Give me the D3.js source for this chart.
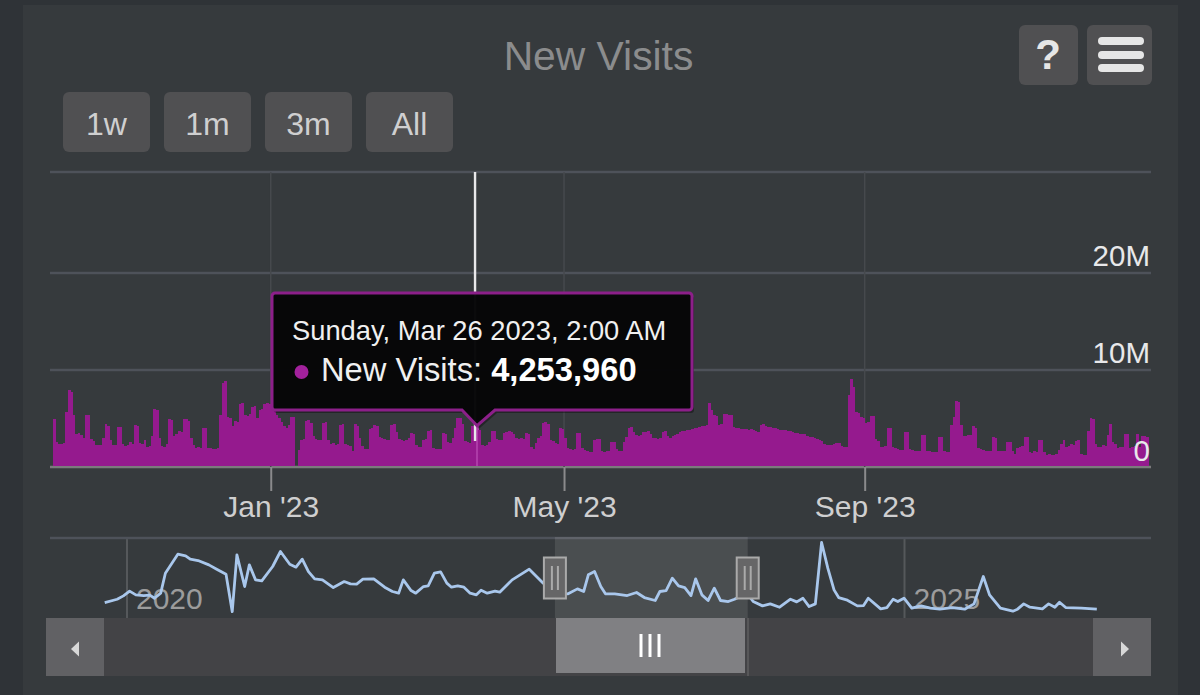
<!DOCTYPE html>
<html>
<head>
<meta charset="utf-8">
<script src="https://cdn.jsdelivr.net/npm/d3@7"></script>
<style>
  html, body { margin: 0; padding: 0; background: #2f3337; }
  svg { display: block; font-family: "Liberation Sans", Arial, sans-serif; }
</style>
</head>
<body>
<svg width="1200" height="695"></svg>
<script>
// daily new visits in millions, one list per stretch of the range
var visitsOctToJan = [
  4.9, 2.6, 2.4, 2.4, 2.5, 5.7, 7.9, 7.7, 5.4, 3.4, 3.5, 3.3, 3.0, 5.4, 5.4, 2.9, 2.7, 2.3, 2.3, 2.3,
  3.0, 4.4, 4.2, 2.8, 2.3, 2.3, 4.1, 4.1, 2.4, 2.2, 2.3, 2.6, 2.4, 4.3, 4.2, 2.5, 2.4, 2.8, 2.1, 2.2,
  3.2, 6.0, 5.9, 3.0, 2.2, 2.1, 2.4, 4.9, 4.8, 3.2, 3.4, 3.7, 3.6, 4.9, 4.9, 4.7, 3.0, 2.3, 2.0, 2.1,
  2.0, 4.0, 4.0, 2.0, 2.0, 1.9, 1.9, 2.0, 5.4, 8.7, 8.9, 5.2, 5.0, 4.2, 4.7, 4.6, 6.5, 6.6, 5.4, 5.3,
  5.5, 6.2, 6.3, 5.0, 5.9, 6.0, 6.5, 6.6, 6.5, 6.2, 5.9, 5.4, 5.0, 4.6, 4.2, 4.0, 4.3, 5.2, 5.2, 0.15,
  1.8, 2.8, 2.9, 4.7, 4.8, 4.5, 3.2, 2.9, 2.8, 2.8, 4.5, 4.6
];
var visitsJanToMay = [
  2.8, 2.4, 2.5, 2.3, 2.4, 4.3, 4.4, 2.4, 2.3, 2.2, 1.6, 4.4, 4.2, 3.0, 2.2, 1.9, 1.9, 3.9, 4.0, 4.3,
  4.2, 3.1, 3.0, 2.9, 2.8, 2.8, 4.3, 4.4, 3.6, 2.9, 2.8, 2.7, 2.8, 3.0, 3.5, 3.4, 2.3, 2.1, 2.1, 2.8,
  2.9, 3.7, 3.8, 2.0, 1.9, 1.9, 1.9, 3.5, 3.4, 2.6, 2.5, 3.0, 4.0, 5.1, 5.0, 4.4, 2.7, 2.6, 2.5, 4.2,
  4.3, 4.25396, 3.8, 2.3, 2.2, 2.3, 2.6, 3.7, 3.7, 2.9, 2.8, 2.8, 3.5, 3.6, 3.7, 3.6, 3.4, 3.0, 2.9, 3.0,
  2.9, 3.5, 3.4, 2.1, 1.9, 2.5, 3.0, 3.2, 4.5, 4.6, 4.4, 2.8, 2.7, 2.5, 2.4, 4.0, 3.9, 3.0, 2.0, 1.9,
  1.8, 1.9, 3.5, 3.5, 2.0, 1.8, 1.7, 1.5, 1.5, 2.8, 2.9
];
var visitsMayToAug = [
  2.9, 1.6, 1.5, 1.7, 1.6, 2.6, 2.6, 1.9, 1.6, 1.6, 2.6, 3.1, 4.0, 4.1, 3.6, 3.3, 3.2, 3.3, 3.6, 3.6,
  3.7, 3.4, 3.0, 3.0, 2.9, 3.0, 3.6, 3.7, 3.2, 3.0, 3.2, 3.3, 3.4, 3.6, 3.7, 3.7, 3.8, 3.8, 3.9, 4.0,
  4.0, 4.1, 4.2, 4.2, 4.3, 6.6, 5.9, 5.4, 5.3, 4.3, 4.4, 5.5, 5.5, 5.4, 5.4, 4.1, 4.0, 4.0, 3.9, 3.9,
  3.9, 3.8, 3.9, 3.8, 3.7, 3.6, 4.3, 4.4, 4.2, 4.1, 4.1, 4.0, 4.0, 3.9, 3.8, 3.8, 3.8, 3.7, 3.7, 3.6,
  3.5, 3.5, 3.4, 3.4, 3.4, 3.2, 3.1, 3.1, 3.0, 2.9, 2.8, 2.7, 2.4, 2.3, 2.3, 2.3, 2.4, 2.5, 2.5, 2.2,
  2.1, 2.1
];
var visitsAugToDec = [
  7.4, 9.1, 8.2, 5.7, 5.6, 5.2, 5.0, 4.5, 4.6, 5.3, 5.3, 2.9, 2.7, 2.1, 2.1, 2.2, 4.0, 4.0, 2.1, 2.0,
  1.9, 1.8, 1.8, 3.6, 3.6, 1.9, 1.8, 1.7, 1.7, 1.6, 3.3, 3.3, 1.7, 1.6, 1.5, 1.5, 1.5, 3.1, 3.1, 1.6,
  1.5, 1.5, 4.3, 5.2, 6.8, 6.7, 4.3, 3.2, 3.2, 3.3, 3.3, 4.2, 4.0, 2.0, 1.9, 1.8, 1.7, 1.7, 1.7, 3.1,
  3.0, 1.7, 1.6, 1.6, 1.6, 2.6, 2.6, 1.6, 1.3, 2.0, 2.1, 2.2, 3.1, 3.1, 1.5, 1.4, 1.6, 1.5, 2.8, 2.8,
  1.5, 1.2, 1.3, 1.2, 1.2, 1.3, 1.8, 2.4, 2.8, 2.1, 2.2, 2.4, 2.3, 2.7, 2.8, 1.3, 1.2, 1.2, 3.7, 5.1,
  4.9, 2.4, 2.1, 2.1, 2.3, 2.2, 3.3, 4.4, 2.6, 2.4, 2.0, 2.1, 2.1, 3.4, 3.4, 2.0, 2.1, 2.2, 3.4, 2.1,
  3.2, 3.2, 3.1
];
var dailyVisits = visitsOctToJan.concat(visitsJanToMay, visitsMayToAug, visitsAugToDec);

var firstDay = new Date(Date.UTC(2022, 9, 4));
var lastDay = new Date(Date.UTC(2023, 11, 26));
var monthTicks = [new Date(Date.UTC(2023, 0, 1)), new Date(Date.UTC(2023, 4, 1)), new Date(Date.UTC(2023, 8, 1))];
var yLabelTicks = [0, 10, 20];
var yGridTicks = [0, 10, 20, 30.4];
var hoverIndex = 173;

// navigator line: decimal year and visits
var navYears = [
  2019.86, 2019.94, 2019.98, 2020.02, 2020.06, 2020.11, 2020.15, 2020.18, 2020.22, 2020.25, 2020.33, 2020.38,
  2020.41, 2020.46, 2020.53, 2020.58, 2020.64, 2020.68, 2020.71, 2020.76, 2020.79, 2020.83, 2020.87, 2020.94,
  2020.99, 2021.05, 2021.09, 2021.13, 2021.17, 2021.21, 2021.26, 2021.33, 2021.40, 2021.44, 2021.48, 2021.52,
  2021.59, 2021.66, 2021.71, 2021.75, 2021.78, 2021.83, 2021.86, 2021.91, 2021.94, 2021.98, 2022.02, 2022.06,
  2022.09, 2022.13, 2022.17, 2022.21, 2022.25, 2022.28, 2022.32, 2022.37, 2022.40, 2022.48, 2022.59, 2022.68,
  2022.76, 2022.84, 2022.90, 2022.94, 2022.97, 2023.01, 2023.05, 2023.08, 2023.14, 2023.22, 2023.28, 2023.33,
  2023.40, 2023.43, 2023.47, 2023.51, 2023.55, 2023.59, 2023.63, 2023.66, 2023.70, 2023.74, 2023.78, 2023.82,
  2023.87, 2023.91, 2023.99, 2024.03, 2024.09, 2024.14, 2024.20, 2024.27, 2024.31, 2024.35, 2024.39, 2024.43,
  2024.47, 2024.51, 2024.55, 2024.58, 2024.63, 2024.70, 2024.74, 2024.77, 2024.85, 2024.89, 2024.93, 2024.96,
  2025.00, 2025.05, 2025.11, 2025.17, 2025.23, 2025.31, 2025.39, 2025.45, 2025.51, 2025.55, 2025.62, 2025.70,
  2025.73, 2025.77, 2025.81, 2025.89, 2025.93, 2025.97, 2026.00, 2026.04, 2026.14, 2026.24
];
var navValues = [
  1.41, 1.90, 2.40, 3.10, 2.55, 2.45, 2.50, 2.05, 2.80, 5.77, 8.60, 8.35,
  7.86, 7.66, 7.01, 6.37, 5.63, 0.05, 8.50, 3.79, 7.01, 4.78, 4.63, 6.77,
  9.00, 7.11, 6.67, 7.86, 6.02, 4.93, 4.78, 3.64, 4.53, 4.19, 4.14, 4.88,
  4.93, 3.69, 3.05, 2.80, 4.78, 3.19, 2.80, 3.79, 3.89, 5.77, 5.97, 4.29,
  3.69, 3.89, 3.69, 2.80, 2.55, 3.24, 2.80, 3.10, 2.95, 4.78, 6.37, 4.29,
  2.80, 2.70, 3.44, 3.05, 5.53, 6.02, 3.79, 2.70, 2.70, 2.45, 2.90, 2.15,
  1.71, 3.05, 3.19, 5.03, 3.89, 3.64, 2.45, 4.93, 2.55, 1.71, 3.54, 1.71,
  1.56, 1.90, 2.80, 1.56, 0.91, 1.21, 0.71, 1.90, 1.51, 2.05, 0.81, 1.21,
  10.34, 6.52, 3.29, 2.15, 1.81, 0.91, 0.96, 2.05, 0.47, 0.66, 1.90, 1.56,
  2.05, 0.57, 0.91, 0.57, 0.42, 0.66, 0.42, 1.21, 5.28, 2.55, 0.57, 0.12,
  0.42, 1.21, 0.71, 0.47, 1.21, 0.71, 1.46, 0.66, 0.57, 0.42
];
var navYearTicks = [2020, 2025];
var navSelection = [2022.755, 2023.995];

var rangeButtons = ["1w", "1m", "3m", "All"];
var titleText = "New Visits";
var tooltipDate = "Sunday, Mar 26 2023, 2:00 AM";
var tooltipName = "New Visits: ";
var tooltipValue = "4,253,960";

var svg = d3.select("svg");
var purple = "#951a8e";

var xscale = d3.scaleUtc().domain([firstDay, lastDay]).range([53.2, 1148.2]);
var yscale = d3.scaleLinear().domain([0, 30.4]).range([467, 172]);
var navX = d3.scaleLinear().domain([2020, 2025]).range([126.5, 904]);
var navY = d3.scaleLinear().domain([0, 10.34]).range([612, 542.5]);

function dayOf(i) {
  return d3.utcDay.offset(firstDay, i);
}

// panel
svg.append("rect").attr("x", 23).attr("y", 5).attr("width", 1155).attr("height", 690).attr("fill", "#363a3d");

svg.append("text")
  .attr("x", 598.5).attr("y", 70)
  .attr("text-anchor", "middle")
  .attr("font-size", 40.8)
  .attr("fill", "#8b8c8d")
  .text(titleText);

// range buttons
var buttonG = svg.selectAll(".range-button").data(rangeButtons).enter().append("g")
  .attr("class", "range-button")
  .attr("transform", function (d, i) { return "translate(" + (63 + i * 101) + ",92)"; });
buttonG.append("rect").attr("width", 87).attr("height", 60).attr("rx", 6).attr("fill", "#505052");
buttonG.append("text")
  .attr("x", 43.5).attr("y", 43)
  .attr("text-anchor", "middle")
  .attr("font-size", 32)
  .attr("fill", "#cfcfd0")
  .text(function (d) { return d; });

// help + menu buttons
svg.append("rect").attr("x", 1019).attr("y", 25).attr("width", 59).attr("height", 60).attr("rx", 6).attr("fill", "#505052");
svg.append("rect").attr("x", 1087).attr("y", 25).attr("width", 65).attr("height", 60).attr("rx", 6).attr("fill", "#505052");
svg.append("text")
  .attr("x", 1048).attr("y", 69)
  .attr("text-anchor", "middle")
  .attr("font-size", 42).attr("font-weight", "bold")
  .attr("fill", "#e6e6e6")
  .text("?");
svg.selectAll(".menu-bar").data([37, 51, 64]).enter().append("rect")
  .attr("class", "menu-bar")
  .attr("x", 1098).attr("y", function (d) { return d; })
  .attr("width", 46).attr("height", 8).attr("rx", 4)
  .attr("fill", "#e6e6e6");

// grid
svg.selectAll(".h-grid").data(yGridTicks).enter().append("line")
  .attr("class", "h-grid")
  .attr("x1", 50).attr("x2", 1151)
  .attr("y1", function (d) { return yscale(d); })
  .attr("y2", function (d) { return yscale(d); })
  .attr("stroke", function (d) { return d === 0 ? "#7b7b7d" : "#4e525a"; })
  .attr("stroke-width", 2.5);
svg.selectAll(".v-grid").data(monthTicks).enter().append("line")
  .attr("class", "v-grid")
  .attr("x1", function (d) { return xscale(d); })
  .attr("x2", function (d) { return xscale(d); })
  .attr("y1", 172).attr("y2", 467)
  .attr("stroke", "#46494d")
  .attr("stroke-width", 1.5);

// bars
svg.selectAll(".bar").data(dailyVisits).enter().append("rect")
  .attr("class", "bar")
  .attr("x", function (d, i) { return xscale(dayOf(i)); })
  .attr("width", function (d, i) { return xscale(dayOf(i + 1)) - xscale(dayOf(i)) + 0.3; })
  .attr("y", function (d) { return yscale(d); })
  .attr("height", function (d) { return yscale(0) - yscale(d) - 1; })
  .attr("fill", function (d, i) { return i === hoverIndex ? "#ad3aa7" : purple; })
  .attr("shape-rendering", "crispEdges");

// x axis
var xAxis = svg.append("g")
  .attr("transform", "translate(0,467)")
  .call(d3.axisBottom(xscale).tickValues(monthTicks).tickSize(24).tickFormat(d3.utcFormat("%b '%y")));
xAxis.select(".domain").remove();
xAxis.selectAll("line").attr("stroke", "#8a8a8c").attr("stroke-width", 2);
xAxis.selectAll("text")
  .attr("font-family", "Liberation Sans")
  .attr("font-size", 30)
  .attr("fill", "#cfcfd0")
  .attr("y", 29).attr("dy", "0.71em");

// y axis, labels sit above their grid lines
var yAxis = svg.append("g")
  .attr("transform", "translate(1150,0)")
  .call(d3.axisLeft(yscale).tickValues(yLabelTicks).tickSize(0).tickPadding(0).tickFormat(function (d) {
    return d === 0 ? "0" : d + "M";
  }));
yAxis.select(".domain").remove();
yAxis.selectAll("text")
  .attr("font-family", "Liberation Sans")
  .attr("font-size", 29.5)
  .attr("fill", "#e8e8ea")
  .attr("dy", -7);

// crosshair
var hoverX = xscale(dayOf(hoverIndex));
svg.append("line")
  .attr("x1", hoverX - 1).attr("x2", hoverX - 1)
  .attr("y1", 172).attr("y2", 441)
  .attr("stroke", "#e8e8ea").attr("stroke-width", 2.4);

// navigator
var navAxis = svg.append("g")
  .attr("transform", "translate(0,618)")
  .call(d3.axisTop(navX).tickValues(navYearTicks).tickSize(81).tickFormat(d3.format("d")));
navAxis.select(".domain").remove();
navAxis.selectAll("line").attr("stroke", "#55585b").attr("stroke-width", 2);
navAxis.selectAll("text")
  .attr("font-family", "Liberation Sans")
  .attr("font-size", 30)
  .attr("fill", "#9c9c9c")
  .attr("text-anchor", "start")
  .attr("x", 9)
  .attr("y", -9)
  .attr("dy", 0);
svg.append("line")
  .attr("x1", 50).attr("x2", 1151).attr("y1", 538).attr("y2", 538)
  .attr("stroke", "#4e525a").attr("stroke-width", 2.5);

svg.append("rect")
  .attr("x", navX(navSelection[0])).attr("y", 537)
  .attr("width", navX(navSelection[1]) - navX(navSelection[0])).attr("height", 81)
  .attr("fill", "#ffffff").attr("fill-opacity", 0.1);

var navLine = d3.line()
  .x(function (d, i) { return navX(navYears[i]); })
  .y(function (d) { return navY(d); });
svg.append("path")
  .datum(navValues)
  .attr("d", navLine)
  .attr("fill", "none")
  .attr("stroke", "#a9c7ec")
  .attr("stroke-width", 2.8)
  .attr("stroke-linejoin", "round");

var handleG = svg.selectAll(".handle").data(navSelection).enter().append("g")
  .attr("class", "handle")
  .attr("transform", function (d) { return "translate(" + navX(d) + ",578)"; });
handleG.append("rect")
  .attr("x", -11).attr("y", -20.5).attr("width", 22).attr("height", 41)
  .attr("fill", "#666667").attr("stroke", "#aaaaaa").attr("stroke-width", 2);
handleG.selectAll(".grip").data([-3, 3]).enter().append("line")
  .attr("class", "grip")
  .attr("x1", function (d) { return d; }).attr("x2", function (d) { return d; })
  .attr("y1", -12).attr("y2", 12)
  .attr("stroke", "#aaaaaa").attr("stroke-width", 2);

// scrollbar
svg.append("rect").attr("x", 46).attr("y", 618).attr("width", 1105).attr("height", 58).attr("fill", "#434346");
svg.append("rect").attr("x", 46).attr("y", 618).attr("width", 58).attr("height", 58).attr("fill", "#616164");
svg.append("rect").attr("x", 1093).attr("y", 618).attr("width", 58).attr("height", 58).attr("fill", "#616164");
svg.append("path").attr("d", "M79,641.5L71,649L79,656.5Z").attr("fill", "#d8d8d8");
svg.append("path").attr("d", "M1121,641.5L1129,649L1121,656.5Z").attr("fill", "#d8d8d8");
svg.append("rect").attr("x", 556).attr("y", 618).attr("width", 189).attr("height", 55).attr("fill", "#808083");
svg.append("line").attr("x1", 748).attr("x2", 748).attr("y1", 618).attr("y2", 676).attr("stroke", "#5e5e61").attr("stroke-width", 1.5);
svg.selectAll(".thumb-bar").data([641, 650, 659]).enter().append("line")
  .attr("class", "thumb-bar")
  .attr("x1", function (d) { return d; }).attr("x2", function (d) { return d; })
  .attr("y1", 634).attr("y2", 657)
  .attr("stroke", "#ffffff").attr("stroke-width", 3);

// tooltip
var tipTop = yscale(dailyVisits[hoverIndex]);
var tipPath = "M275,293H689a3,3 0 0 1 3,3V407a3,3 0 0 1 -3,3H495L" + (hoverX + 1) + "," + tipTop + "L462,410H275a3,3 0 0 1 -3,-3V296a3,3 0 0 1 3,-3Z";
svg.append("path")
  .attr("d", tipPath)
  .attr("fill", "#000000").attr("fill-opacity", 0.35)
  .attr("transform", "translate(2,3)");
svg.append("path")
  .attr("d", tipPath)
  .attr("fill", "#060607").attr("fill-opacity", 0.97)
  .attr("stroke", "#8c1f89").attr("stroke-width", 3);
svg.append("text")
  .attr("x", 292).attr("y", 340)
  .attr("font-size", 27.3)
  .attr("fill", "#f0f0f0")
  .text(tooltipDate);
svg.append("circle").attr("cx", 301.5).attr("cy", 372).attr("r", 7).attr("fill", "#a2219c");
var tipLine = svg.append("text")
  .attr("x", 321).attr("y", 381)
  .attr("font-size", 32.7)
  .attr("fill", "#f0f0f0")
  .attr("xml:space", "preserve");
tipLine.append("tspan").text(tooltipName);
tipLine.append("tspan").attr("font-weight", "bold").attr("fill", "#ffffff").text(tooltipValue);
</script>
</body>
</html>
